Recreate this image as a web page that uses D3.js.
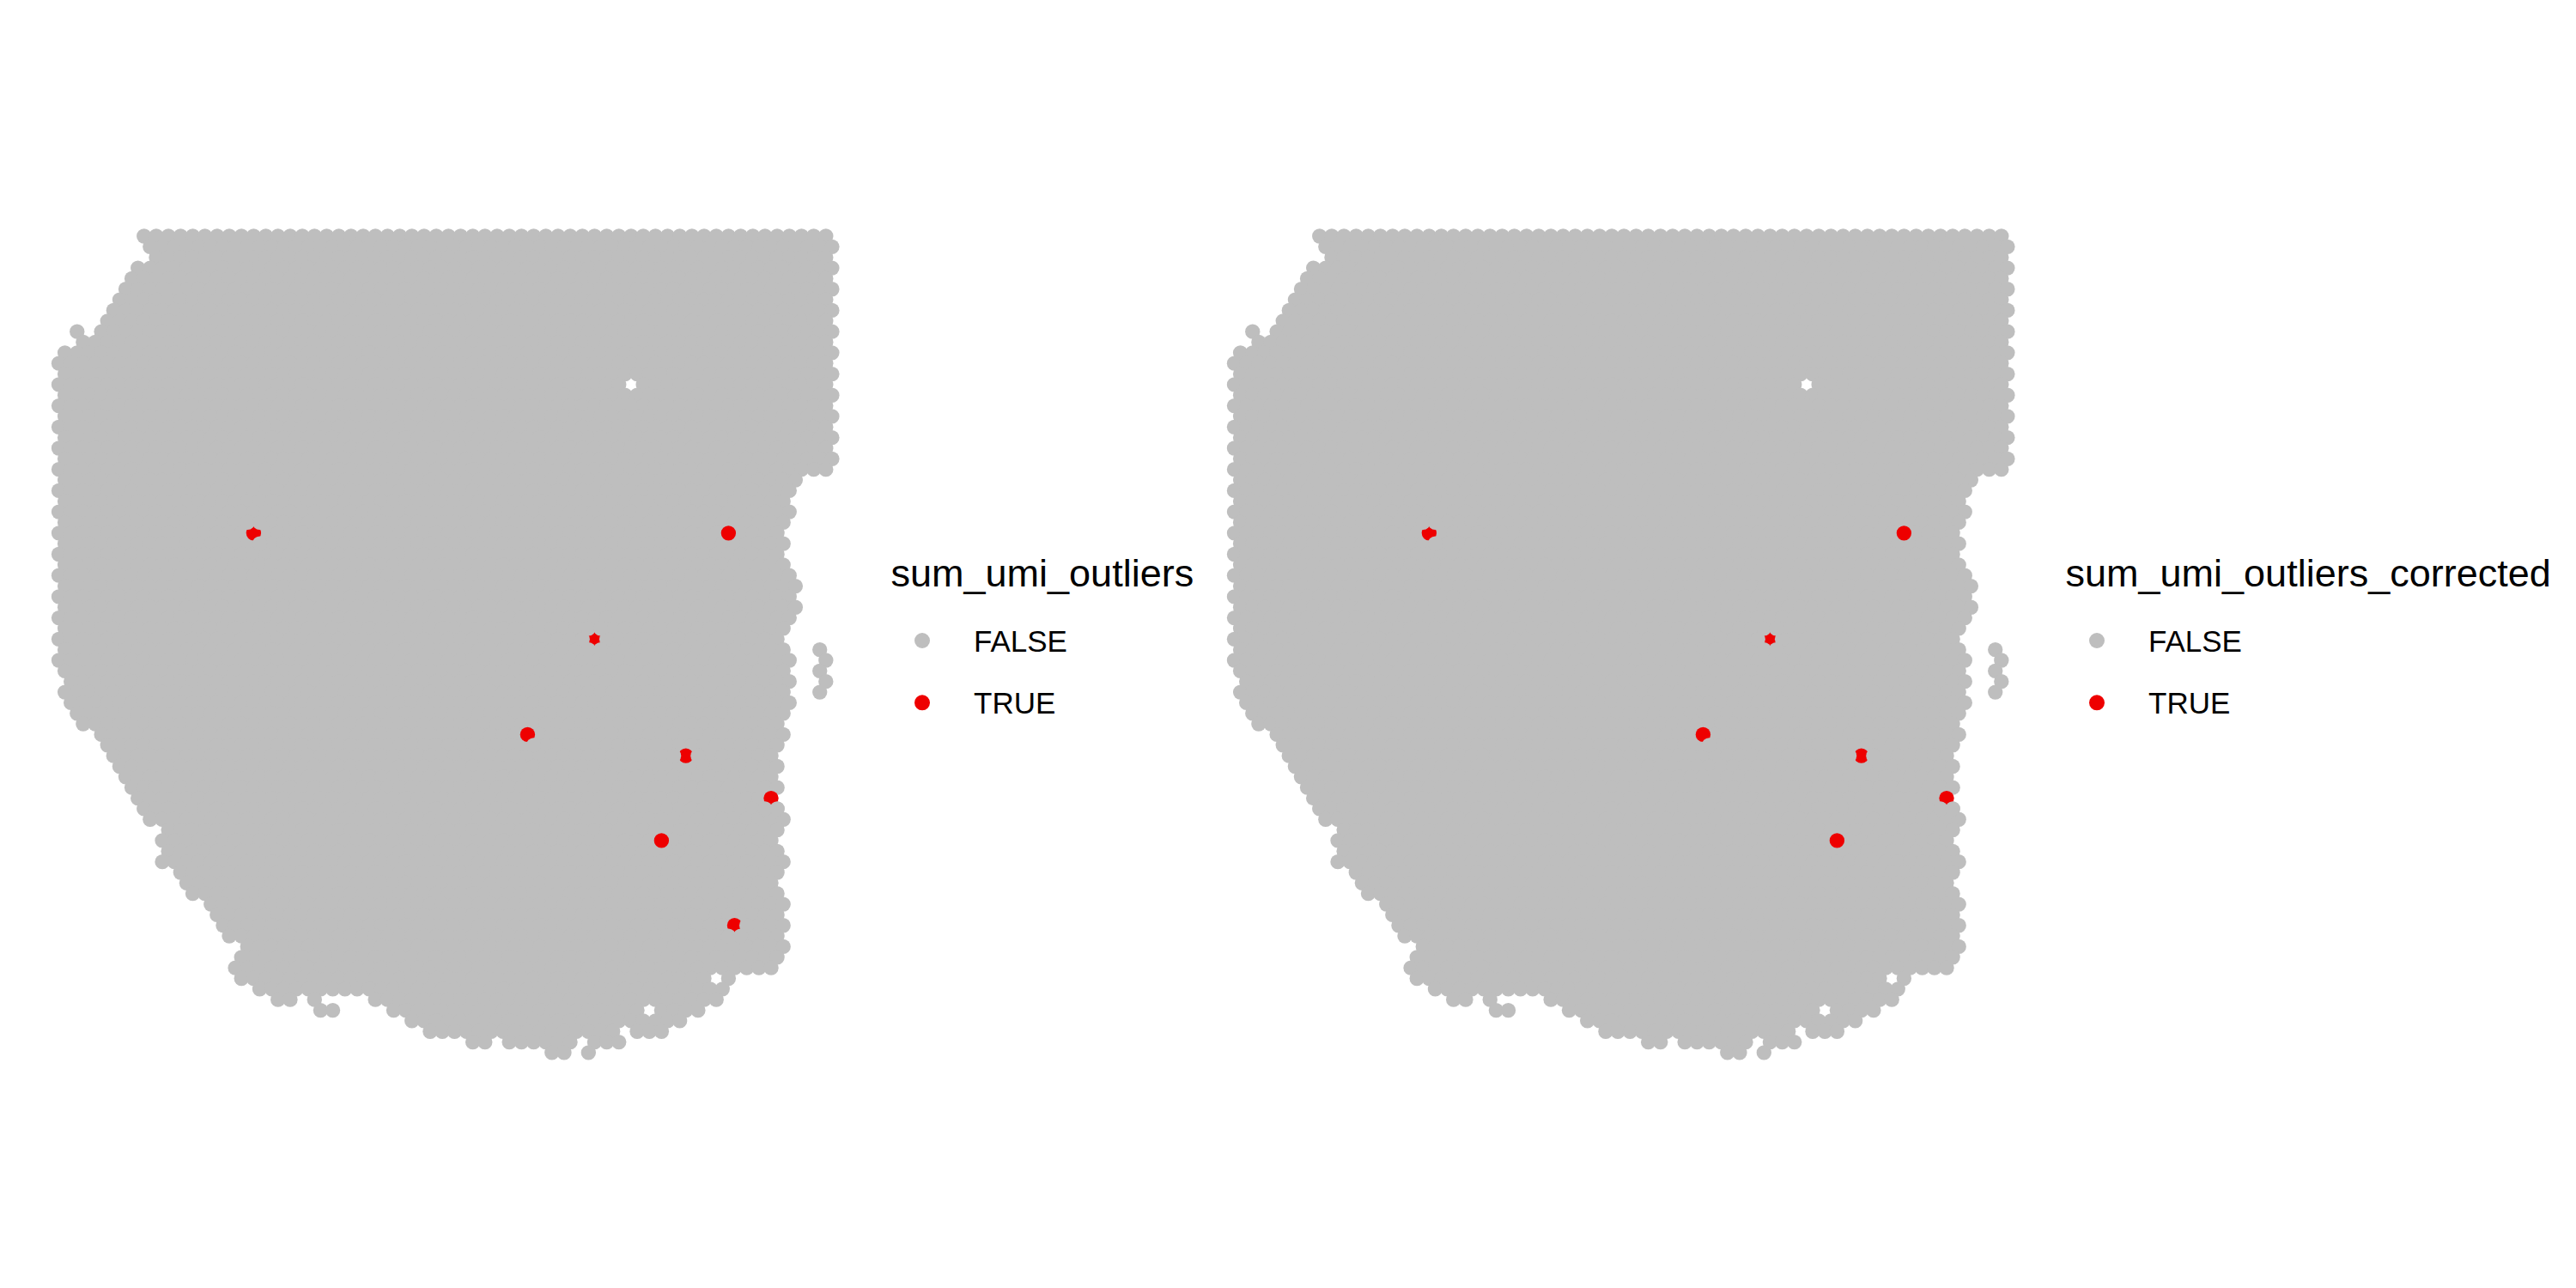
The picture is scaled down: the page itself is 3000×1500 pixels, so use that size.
<!DOCTYPE html>
<html><head><meta charset="utf-8">
<script src="https://cdn.jsdelivr.net/npm/d3@7"></script>
<style>html,body{margin:0;padding:0;background:#fff;} svg{display:block}</style>
</head><body>
<script>
// Tissue spots: for each array row (0..77), the segments [firstCol, lastCol] of array columns present (hex grid, step 2)
const rowSegments = [
  [[14,126]], [[15,127]], [[16,126]], [[13,127]], [[12,126]], [[11,127]], [[10,126]], [[9,127]], [[8,126]],
  [[3,3],[7,127]], [[4,126]], [[1,127]],
  [[0,126]], [[1,127]], [[0,126]], [[1,127]], [[0,126]], [[1,127]], [[0,126]], [[1,127]], [[0,126]], [[1,127]],
  [[0,126]], [[1,121]], [[0,120]], [[1,119]], [[0,120]], [[1,119]], [[0,118]], [[1,119]], [[0,118]], [[1,119]],
  [[0,120]], [[1,121]], [[0,120]], [[1,121]], [[0,120]], [[1,119]], [[0,118]],
  [[1,119],[125,125]], [[0,120],[126,126]], [[1,119],[125,125]], [[2,120],[126,126]], [[1,119],[125,125]],
  [[2,120]], [[3,119]], [[4,118]], [[7,119]], [[8,118]], [[9,117]], [[10,118]], [[11,117]], [[12,118]],
  [[13,117]], [[14,118]], [[15,119]], [[18,118]], [[17,117]], [[18,118]], [[17,119]], [[20,118]], [[21,117]],
  [[22,118]], [[25,119]], [[26,118]], [[27,119]], [[28,118]], [[31,119]], [[30,118]], [[29,117]],
  [[30,110]], [[33,109]], [[36,38],[42,42],[52,108]], [[43,45],[55,105]], [[58,102]],
  [[61,91],[95,99]], [[68,70],[74,84],[88,92]], [[81,83],[87,87]]
];
// Missing spots inside the tissue [row, col]
const holes = [[14,94],[70,108],[73,97]];
// Outlier spots [row, col] for each panel
const outliersRaw = [[28,32],[28,110],[38,88],[47,77],[49,103],[53,117],[57,99],[65,111]];
const outliersCorrected = [[28,32],[28,110],[38,88],[47,77],[49,103],[53,117],[57,99]];
// neighbours plotted after an outlier (so they hide part of it)
const coveredBy = {
  "28,32": ["UL","UR","DR"],
  "38,88": ["L","R","UL","UR","DL","DR"],
  "47,77": ["DR"],
  "49,103": ["L","R"],
  "53,117": ["DL","DR"],
  "65,111": ["R","DL","DR"]
};
const legendTitles = ["sum_umi_outliers", "sum_umi_outliers_corrected"];
const legendLabels = ["FALSE", "TRUE"];
const legendColors = ["#BEBEBE", "#EE0000"];

const W = 3000, H = 1500;
const svg = d3.select("body").append("svg").attr("width", W).attr("height", H)
  .style("font-family", "'Liberation Sans', Arial, sans-serif");
svg.append("rect").attr("width", W).attr("height", H).attr("fill", "#fff");

const x = d3.scaleLinear().domain([0, 127]).range([68.5, 968.9]);
const y = d3.scaleLinear().domain([0, 77]).range([275, 1225.95]);
const R = 8.67;
const color = d3.scaleOrdinal().domain(legendLabels).range(legendColors);

const holeSet = new Set(holes.map(d => d.join(",")));
const spots = [];
rowSegments.forEach((segs, r) => {
  segs.forEach(([a, b]) => {
    for (let c = a; c <= b; c += 2) {
      if (!holeSet.has(r + "," + c)) spots.push({r, c});
    }
  });
});
const spotSet = new Set(spots.map(d => d.r + "," + d.c));
const dirs = {L:[0,-2], R:[0,2], UL:[-1,-1], UR:[-1,1], DL:[1,-1], DR:[1,1]};

const panels = [
  {dx: 0, outliers: outliersRaw, legendX: 1037.5, title: legendTitles[0]},
  {dx: 1369, outliers: outliersCorrected, legendX: 2405.5, title: legendTitles[1]}
];

panels.forEach(p => {
  const g = svg.append("g").attr("transform", `translate(${p.dx},0)`);
  const outSet = new Set(p.outliers.map(d => d.join(",")));
  const data = spots.map(d => ({...d, out: outSet.has(d.r + "," + d.c) ? "TRUE" : "FALSE"}));
  const ordered = data.filter(d => d.out === "FALSE").concat(data.filter(d => d.out === "TRUE"));
  p.outliers.forEach(([r, c]) => {
    (coveredBy[r + "," + c] || []).forEach(k => {
      const [dr, dc] = dirs[k];
      const key = (r + dr) + "," + (c + dc);
      if (spotSet.has(key) && !outSet.has(key)) ordered.push({r: r + dr, c: c + dc, out: "FALSE"});
    });
  });
  g.selectAll("circle").data(ordered).join("circle")
    .attr("cx", d => x(d.c)).attr("cy", d => y(d.r)).attr("r", R)
    .attr("fill", d => color(d.out));

  const lg = svg.append("g").attr("transform", `translate(${p.legendX},0)`);
  lg.append("text").attr("x", 0).attr("y", 683).attr("font-size", 45).attr("fill", "#000").text(p.title);
  legendLabels.forEach((lab, i) => {
    lg.append("circle").attr("cx", 36.5).attr("cy", 746 + i * 72.3).attr("r", 9).attr("fill", color(lab));
    lg.append("text").attr("x", 96.5).attr("y", 759 + i * 72.3).attr("font-size", 35).attr("fill", "#000").text(lab);
  });
});
</script>
</body></html>
